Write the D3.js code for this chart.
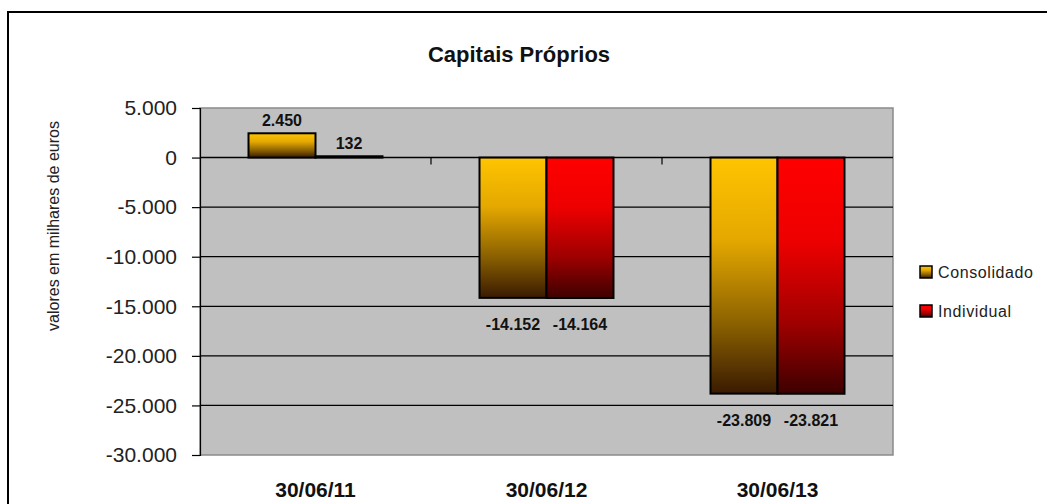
<!DOCTYPE html>
<html>
<head>
<meta charset="utf-8">
<script src="https://cdn.jsdelivr.net/npm/d3@7"></script>
<style>
  body { margin: 0; background: #fff; }
  svg { display: block; font-family: "Liberation Sans", Arial, sans-serif; }
</style>
</head>
<body>
<div id="chart"></div>
<script>
// chart data
const categories = ["30/06/11", "30/06/12", "30/06/13"];
const seriesNames = ["Consolidado", "Individual"];
const consolidado = [2450, -14152, -23809];
const individual = [132, -14164, -23821];
const yTicks = [5000, 0, -5000, -10000, -15000, -20000, -25000, -30000];

const W = 1047, H = 504;
const plot = { left: 200, right: 893, top: 108, bottom: 455 };

// gradient stops per series (top -> bottom)
const grads = {
  "Consolidado": ["#ffc400", "#e4a800", "#8c6200", "#3a1a02"],
  "Individual": ["#ff0000", "#ee0000", "#a00000", "#3e0000"]
};
const gradOffsets = ["0%", "35%", "70%", "100%"];

const rows = categories.map((c, i) => ({
  cat: c,
  vals: [
    { s: "Consolidado", v: consolidado[i] },
    { s: "Individual", v: individual[i] }
  ]
}));

const svg = d3.select("#chart").append("svg").attr("width", W).attr("height", H);

const defs = svg.append("defs");
seriesNames.forEach((s, i) => {
  const g = defs.append("linearGradient").attr("id", "grad" + i)
    .attr("x1", 0).attr("y1", 0).attr("x2", 0).attr("y2", 1);
  grads[s].forEach((c, k) => g.append("stop").attr("offset", gradOffsets[k]).attr("stop-color", c));
});

// outer frame (only top & left visible)
svg.append("rect").attr("x", 8).attr("y", 12).attr("width", 1100).attr("height", 600)
  .attr("fill", "#fff").attr("stroke", "#000").attr("stroke-width", 2);

const x0 = d3.scaleBand().domain(categories).range([plot.left, plot.right]).padding(0);
const x1 = d3.scaleBand().domain(seriesNames).range([0, x0.bandwidth()])
  .paddingInner(0).paddingOuter(0.724);
const y = d3.scaleLinear().domain([-30000, 5000]).range([plot.bottom, plot.top]);

const fmt = v => d3.format(",")(v).replace(/,/g, ".").replace("\u2212", "-");

// plot background
svg.append("rect").attr("x", plot.left).attr("y", plot.top)
  .attr("width", plot.right - plot.left).attr("height", plot.bottom - plot.top)
  .attr("fill", "#c0c0c0").attr("stroke", "#8a8a8a").attr("stroke-width", 1.5);

// gridlines
svg.append("g").selectAll("line")
  .data(yTicks.filter(t => t < 5000 && t > -30000))
  .join("line")
  .attr("x1", plot.left).attr("x2", plot.right)
  .attr("y1", d => y(d)).attr("y2", d => y(d))
  .attr("stroke", "#000").attr("stroke-width", d => d === 0 ? 1.6 : 1.2);

// y axis
const yAxis = svg.append("g").attr("transform", `translate(${plot.left},0)`)
  .call(d3.axisLeft(y).tickValues(yTicks).tickSize(8).tickPadding(15).tickFormat(fmt));
yAxis.select(".domain").attr("stroke", "#000").attr("stroke-width", 1.2);
yAxis.selectAll(".tick line").attr("stroke", "#000").attr("stroke-width", 1.2);
yAxis.selectAll("text").attr("font-size", 21).attr("fill", "#222")
  .attr("font-family", "Liberation Sans, Arial, sans-serif");

// category ticks along zero line
svg.append("g").selectAll("line")
  .data(categories.slice(1))
  .join("line")
  .attr("x1", d => x0(d)).attr("x2", d => x0(d))
  .attr("y1", y(0)).attr("y2", y(0) + 7)
  .attr("stroke", "#000").attr("stroke-width", 1.2);

// bars
const groups = svg.append("g").selectAll("g").data(rows).join("g")
  .attr("transform", d => `translate(${x0(d.cat)},0)`);

groups.selectAll("rect").data(d => d.vals).join("rect")
  .attr("x", d => x1(d.s))
  .attr("y", d => y(Math.max(0, d.v)))
  .attr("width", x1.bandwidth())
  .attr("height", d => Math.abs(y(d.v) - y(0)))
  .attr("fill", d => `url(#grad${seriesNames.indexOf(d.s)})`)
  .attr("stroke", "#000").attr("stroke-width", 2);

// value labels
groups.selectAll("text").data(d => d.vals).join("text")
  .attr("x", d => x1(d.s) + x1.bandwidth() / 2)
  .attr("y", d => d.v >= 0 ? y(d.v) - 7 : y(d.v) + 32)
  .attr("text-anchor", "middle")
  .attr("font-size", 16).attr("font-weight", "bold").attr("fill", "#111")
  .text(d => fmt(d.v));

// x labels
svg.append("g").selectAll("text").data(categories).join("text")
  .attr("x", d => x0(d) + x0.bandwidth() / 2)
  .attr("y", 497)
  .attr("text-anchor", "middle")
  .attr("font-size", 21).attr("font-weight", "bold").attr("fill", "#111")
  .text(d => d);

// title
svg.append("text").attr("x", 519).attr("y", 62).attr("text-anchor", "middle")
  .attr("font-size", 22).attr("font-weight", "bold").attr("fill", "#111")
  .text("Capitais Próprios");

// y axis title
svg.append("text").attr("transform", "translate(59,226) rotate(-90)")
  .attr("text-anchor", "middle").attr("font-size", 16).attr("fill", "#222")
  .text("valores em milhares de euros");

// legend
const legend = svg.append("g").selectAll("g").data(seriesNames).join("g")
  .attr("transform", (d, i) => `translate(920,${266 + i * 39})`);
legend.append("rect").attr("width", 12).attr("height", 12)
  .attr("fill", (d, i) => `url(#grad${i})`).attr("stroke", "#000").attr("stroke-width", 1.5);
legend.append("text").attr("x", 18).attr("y", 12)
  .attr("font-size", 16).attr("fill", "#222")
  .attr("textLength", (d, i) => i === 0 ? 95 : 73).attr("lengthAdjust", "spacing")
  .text(d => d);
</script>
</body>
</html>
